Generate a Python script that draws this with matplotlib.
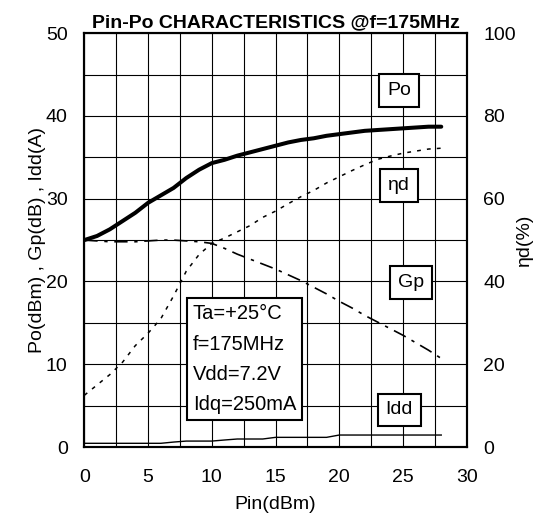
import numpy as np
import matplotlib.pyplot as plt
from matplotlib.ticker import MultipleLocator

plt.rcParams['font.family'] = ['Liberation Sans', 'DejaVu Sans']

# Pin-Po characteristics
pin = list(range(0, 29))
po = [25.0, 25.5, 26.3, 27.3, 28.3, 29.5, 30.4, 31.3, 32.5, 33.5, 34.3, 34.7, 35.2, 35.6,
      36.0, 36.4, 36.8, 37.1, 37.3, 37.6, 37.8, 38.0, 38.2, 38.3, 38.4, 38.5, 38.6, 38.7, 38.7]
gp = [25.0, 24.9, 24.8, 24.8, 24.8, 24.9, 25.0, 25.0, 24.9, 24.8, 24.6, 24.0, 23.3, 22.7,
      22.1, 21.5, 20.8, 20.1, 19.3, 18.5, 17.6, 16.8, 15.9, 15.1, 14.3, 13.5, 12.6, 11.7, 10.7]
idd = [0.45, 0.45, 0.45, 0.45, 0.45, 0.45, 0.45, 0.6, 0.72, 0.72, 0.72, 0.85, 0.97, 0.97,
       0.97, 1.17, 1.17, 1.17, 1.17, 1.17, 1.45, 1.45, 1.45, 1.45, 1.45, 1.45, 1.45, 1.45, 1.45]
eta = [12.5, 15.0, 17.5, 20.5, 24.5, 27.5, 31.0, 36.5, 42.5, 46.5, 49.2, 50.5, 52.0, 53.5,
       55.5, 57.0, 58.8, 60.5, 62.0, 63.8, 65.3, 66.8, 68.2, 69.5, 70.3, 71.0, 71.5, 72.0, 72.2]

conditions = "Ta=+25°C\nf=175MHz\nVdd=7.2V\nIdq=250mA"

fig = plt.figure(figsize=(5.44, 5.18), dpi=100)
ax = fig.add_axes([0.155, 0.137, 0.703, 0.799])
ax2 = ax.twinx()

ax.plot(pin, po, color='black', lw=2.9, solid_capstyle='round')
ax.plot(pin, gp, color='black', lw=1.2, linestyle=(0, (8, 4, 2, 4)))
ax.plot(pin, idd, color='black', lw=1.0)
ax2.plot(pin, eta, color='black', lw=1.1, linestyle=(0, (2.5, 4)))

ax.set_xlim(0, 30)
ax.set_ylim(0, 50)
ax2.set_ylim(0, 100)
ax.xaxis.set_major_locator(MultipleLocator(5))
ax.xaxis.set_minor_locator(MultipleLocator(2.5))
ax.yaxis.set_major_locator(MultipleLocator(10))
ax.yaxis.set_minor_locator(MultipleLocator(5))
ax2.yaxis.set_major_locator(MultipleLocator(20))
ax.grid(which='both', color='black', lw=0.8)
ax.set_axisbelow(True)

for a in (ax, ax2):
    a.tick_params(which='both', length=0, labelsize=14)
    for s in a.spines.values():
        s.set_linewidth(1.5)
ax.tick_params(axis='x', pad=16)
ax.tick_params(axis='y', pad=12)
ax2.tick_params(axis='y', pad=12)

ax.set_xlabel('Pin(dBm)', fontsize=14, labelpad=7)
ax.set_ylabel('Po(dBm) , Gp(dB) , Idd(A)', fontsize=14, labelpad=0)
ax2.set_ylabel('ηd(%)', fontsize=14, labelpad=0)
ax.set_title('Pin-Po CHARACTERISTICS @f=175MHz', fontsize=14, fontweight='bold', pad=4)

box = dict(boxstyle='square,pad=0.4', fc='white', ec='black', lw=1.5)
ax.text(24.7, 43.1, 'Po', fontsize=14, ha='center', va='center', bbox=box)
ax.text(24.7, 31.6, 'ηd', fontsize=14, ha='center', va='center', bbox=box)
ax.text(25.6, 19.9, 'Gp', fontsize=14, ha='center', va='center', bbox=box)
ax.text(24.7, 4.5, 'Idd', fontsize=14, ha='center', va='center', bbox=box)
ax.text(8.5, 10.6, conditions, fontsize=14.5, ha='left', va='center', linespacing=1.75,
        bbox=dict(boxstyle='square,pad=0.3', fc='white', ec='black', lw=1.5))

fig.savefig('out.png', dpi=100)
